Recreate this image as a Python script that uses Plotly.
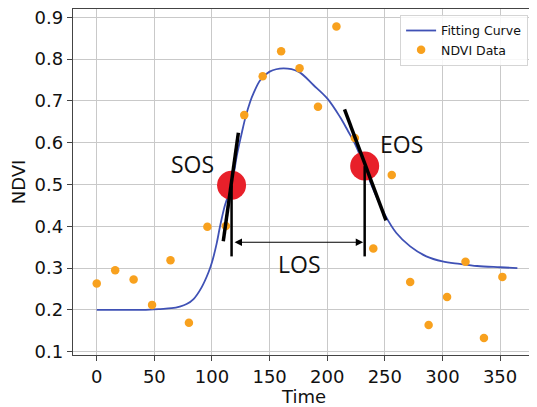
import plotly.graph_objects as go

time = [0, 16, 32, 48, 64, 80, 96, 112, 128, 144, 160, 176, 192, 208, 224,
        240, 256, 272, 288, 304, 320, 336, 352]
ndvi = [0.263, 0.295, 0.273, 0.212, 0.319, 0.169, 0.399, 0.401, 0.666, 0.759,
        0.819, 0.778, 0.686, 0.878, 0.611, 0.347, 0.523, 0.267, 0.164, 0.231,
        0.315, 0.133, 0.279]

# Fitting curve
curve_t = [0, 20, 40, 55, 65, 72, 78, 84, 91, 97, 100, 104, 107, 111, 117,
           122, 126, 129, 133, 136, 142, 150, 162, 175, 188, 200, 211, 218,
           225, 232, 240, 250, 260, 272, 286, 300, 315, 330, 350, 365]
curve_v = [0.200, 0.200, 0.200, 0.202, 0.204, 0.208, 0.214, 0.226, 0.254,
           0.290, 0.314, 0.358, 0.400, 0.448, 0.500, 0.575, 0.625, 0.660,
           0.697, 0.718, 0.750, 0.770, 0.778, 0.770, 0.738, 0.706, 0.662,
           0.628, 0.592, 0.544, 0.488, 0.428, 0.384, 0.352, 0.328, 0.316,
           0.310, 0.305, 0.302, 0.300]

# Phenology markers
sos_t, sos_v = 117, 0.498
eos_t, eos_v = 232.5, 0.544
sos_tangent_t = [109.8, 122.9]
sos_tangent_v = [0.364, 0.624]
eos_tangent_t = [215.0, 251.0]
eos_tangent_v = [0.680, 0.414]
vline_bottom = 0.328
los_y = 0.362

labels = ["SOS", "EOS", "LOS"]
label_t = [83, 264.5, 176]
label_v = [0.548, 0.598, 0.309]

x_ticks = [0, 50, 100, 150, 200, 250, 300, 350]
y_ticks = [0.1, 0.2, 0.3, 0.4, 0.5, 0.6, 0.7, 0.8, 0.9]

fig = go.Figure()

fig.add_trace(go.Scatter(
    x=curve_t, y=curve_v, mode="lines", name="Fitting Curve",
    line=dict(color="#3f51b5", width=1.8, shape="spline", smoothing=1.0)))

fig.add_trace(go.Scatter(
    x=time, y=ndvi, mode="markers", name="NDVI Data",
    marker=dict(color="#f8a11e", size=8.5, line=dict(width=0))))

fig.add_trace(go.Scatter(
    x=[sos_t, eos_t], y=[sos_v, eos_v], mode="markers", showlegend=False,
    marker=dict(color="#e8202a", size=29, line=dict(width=0))))

fig.add_trace(go.Scatter(
    x=sos_tangent_t, y=sos_tangent_v, mode="lines", showlegend=False,
    line=dict(color="black", width=3.5)))
fig.add_trace(go.Scatter(
    x=eos_tangent_t, y=eos_tangent_v, mode="lines", showlegend=False,
    line=dict(color="black", width=3.5)))
fig.add_trace(go.Scatter(
    x=[sos_t, sos_t], y=[sos_v, vline_bottom], mode="lines", showlegend=False,
    line=dict(color="black", width=2.5)))
fig.add_trace(go.Scatter(
    x=[eos_t, eos_t], y=[eos_v, vline_bottom], mode="lines", showlegend=False,
    line=dict(color="black", width=2.5)))

# LOS double arrow
fig.add_annotation(x=eos_t, y=los_y, ax=sos_t, ay=los_y, xref="x", yref="y",
                   axref="x", ayref="y", text="", showarrow=True,
                   arrowhead=2, arrowside="end+start", arrowsize=1.35,
                   arrowwidth=1.1, arrowcolor="black", standoff=1.5,
                   startstandoff=1.5)

for txt, tx, ty in zip(labels, label_t, label_v):
    fig.add_annotation(x=tx, y=ty, text=txt, showarrow=False,
                       font=dict(family="Open Sans", size=23, color="#111"),
                       xanchor="center", yanchor="middle")

axis_common = dict(
    showgrid=True, gridcolor="#c9c9c9", gridwidth=1.2,
    showline=True, linecolor="#444", linewidth=1.3, mirror=True,
    ticks="outside", ticklen=5, tickwidth=1.3, tickcolor="#444",
    zeroline=False, automargin=False, ticklabeloverflow="allow",
    tickfont=dict(family="DejaVu Sans", size=18, color="#111"),
)

fig.update_xaxes(range=[-20.6, 380.3], tickvals=x_ticks,
                 ticktext=[str(v) for v in x_ticks],
                 title=dict(text="Time", font=dict(family="DejaVu Sans", size=18, color="#111"),
                            standoff=4),
                 **axis_common)
fig.update_yaxes(range=[0.0921, 0.9199], tickvals=y_ticks,
                 ticktext=[f"{v:.1f}" for v in y_ticks],
                 title=dict(text="NDVI", font=dict(family="DejaVu Sans", size=18, color="#111"),
                            standoff=6),
                 **axis_common)

# The page body has an 8px margin, so the figure is sized to fit the window.
fig.update_layout(
    width=529, height=399,
    margin=dict(l=65, r=2, t=1, b=52),
    plot_bgcolor="white", paper_bgcolor="white",
    legend=dict(x=0.708, y=0.983, xanchor="left", yanchor="top",
                bgcolor="rgba(255,255,255,0.85)", bordercolor="#d5d5d5",
                borderwidth=1, font=dict(family="DejaVu Sans", size=12.5, color="#111"),
                tracegroupgap=0, itemwidth=30),
)

fig.write_html("out.html")
